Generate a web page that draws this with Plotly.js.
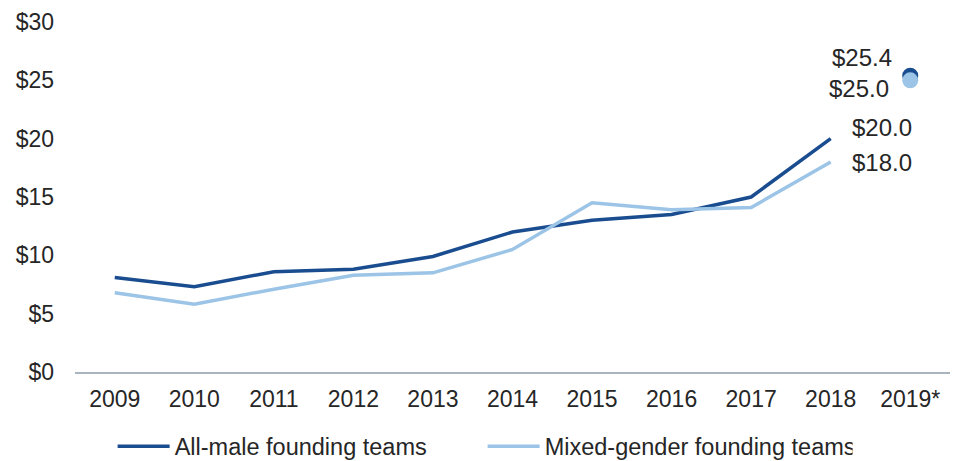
<!DOCTYPE html>
<html>
<head>
<meta charset="utf-8">
<script src="https://cdn.plot.ly/plotly-3.0.1.min.js"></script>
<style>
  html, body { margin: 0; padding: 0; background: #fff; }
  #chart { width: 963px; height: 461px; }
</style>
</head>
<body>
<div id="chart"></div>
<script>
const years = ['2009', '2010', '2011', '2012', '2013', '2014', '2015', '2016', '2017', '2018', '2019*'];
const allMale = [8.1, 7.3, 8.6, 8.8, 9.9, 12.0, 13.0, 13.5, 15.0, 20.0, null];
const mixedGender = [6.8, 5.8, 7.1, 8.3, 8.5, 10.5, 14.5, 13.9, 14.1, 18.0, null];
const partialYear = ['2019*'];
const allMale2019 = [25.4];
const mixed2019 = [25.0];
const yTicks = [0, 5, 10, 15, 20, 25, 30];
const yTickText = yTicks.map(v => '$' + v);

const dark = '#1a4d8f';
const light = '#9bc4e6';
const font = 'Liberation Sans, Arial, sans-serif';

const data = [
  { x: years, y: allMale, type: 'scatter', mode: 'lines', name: 'All-male founding teams',
    line: { color: dark, width: 3.5 }, hoverinfo: 'skip' },
  { x: years, y: mixedGender, type: 'scatter', mode: 'lines', name: 'Mixed-gender founding teams',
    line: { color: light, width: 3.5 }, hoverinfo: 'skip' },
  { x: partialYear, y: allMale2019, type: 'scatter', mode: 'markers', showlegend: false,
    marker: { color: dark, size: 16 }, hoverinfo: 'skip' },
  { x: partialYear, y: mixed2019, type: 'scatter', mode: 'markers', showlegend: false,
    marker: { color: light, size: 16 }, hoverinfo: 'skip' },
];

// value labels (x is the category index: 9 = 2018, 10 = 2019*)
const labels = [
  { x: 9, y: allMale[9], xshift: 51, yshift: 11 },
  { x: 9, y: mixedGender[9], xshift: 51, yshift: 0 },
  { x: 10, y: allMale2019[0], xshift: -48, yshift: 18 },
  { x: 10, y: mixed2019[0], xshift: -51, yshift: -8 },
];

const annotations = labels.map(l => ({
  x: l.x, y: l.y, xref: 'x', yref: 'y', text: '$' + l.y.toFixed(1),
  showarrow: false, xshift: l.xshift, yshift: l.yshift,
  font: { family: font, size: 24, color: '#262626' },
}));

const layout = {
  width: 963, height: 461,
  paper_bgcolor: '#fff', plot_bgcolor: '#fff',
  font: { family: font, size: 23, color: '#262626' },
  margin: { l: 75, r: 13, t: 22, b: 89, autoexpand: false },
  showlegend: true,
  xaxis: {
    type: 'category', range: [-0.5, 10.5], showgrid: false, zeroline: false,
    showline: true, linecolor: '#aab4bf', linewidth: 2,
    ticks: '', ticklabelstandoff: 5,
    tickfont: { family: font, size: 23, color: '#262626' },
  },
  yaxis: {
    range: [0, 30], tickvals: yTicks, ticktext: yTickText,
    showgrid: false, zeroline: false, showline: false, ticks: '',
    ticklabelstandoff: 20,
    tickfont: { family: font, size: 23, color: '#262626' },
  },
  legend: {
    orientation: 'h', x: 0.043, xanchor: 'left', y: -0.15, yanchor: 'top',
    itemwidth: 52, entrywidth: 303,
    font: { family: font, size: 23.5, color: '#262626' },
  },
  annotations,
};

Plotly.newPlot('chart', data, layout, { displayModeBar: false, staticPlot: true });
</script>
</body>
</html>
